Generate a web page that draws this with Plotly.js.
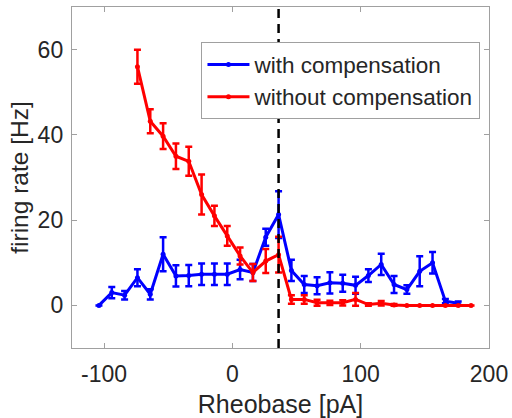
<!DOCTYPE html>
<html>
<head>
<meta charset="utf-8">
<script src="https://cdn.plot.ly/plotly-3.0.1.min.js"></script>
<style>html,body{margin:0;padding:0;background:#fff}#chart{width:512px;height:418px}</style>
</head>
<body>
<div id="chart"></div>
<script>
// Rheobase offsets (pA)
const xWith = [-104,-94,-84,-74,-64,-54,-44,-34,-24,-14,-4,6,16,26,36,46,56,66,76,86,96,106,116,126,136,146,156,166,176];
const yWith = [0,3.0,2.4,6.5,2.6,12,6.9,7.0,7.3,7.3,7.3,8.4,7.7,16,21.3,8.2,4.9,4.6,5.3,5.2,4.7,7.0,9.6,4.9,3.7,8.0,10,1.0,0.5];
const eWith = [0,1.3,1,2,1.2,4,2.5,2.5,2.5,2.5,2.5,2.3,2,2,5.5,2.5,2,2,2.5,2,2,1.5,2.5,2,1,3.5,2.5,0.5,0.4];

const xWithout = [-74,-64,-54,-44,-34,-24,-14,-4,6,16,26,36,46,56,66,76,86,96,106,116,126,136,146,156,166,176,186];
const yWithout = [56,43.2,39.7,35,33.8,26,21,16.3,11.6,7.7,10.4,11.9,1.4,1.4,0.6,0.6,0.6,1.4,0.2,0.5,0.1,0,0,0,0,0,0];
const eWithout = [4,2.8,3,3,3.4,4.7,2.4,2.3,2,2,2.8,4.2,1,1,0.7,0.5,0.6,1.5,0.3,0.5,0.2,0,0,0,0,0,0];

const rheobaseLine = 36;
const names = ["with compensation", "without compensation"];

const font = "Liberation Sans, Arial, Helvetica, sans-serif";
const traces = [
  {x: xWith, y: yWith, name: names[0], type: "scatter", mode: "lines+markers",
   line: {color: "#0000ff", width: 3}, marker: {color: "#0000ff", size: 5},
   error_y: {type: "data", array: eWith, visible: true, color: "#0000ff", thickness: 2.5, width: 3.5}},
  {x: xWithout, y: yWithout, name: names[1], type: "scatter", mode: "lines+markers",
   line: {color: "#ff0000", width: 3}, marker: {color: "#ff0000", size: 5},
   error_y: {type: "data", array: eWithout, visible: true, color: "#ff0000", thickness: 2.5, width: 3.5}}
];

const axisCommon = {
  showgrid: false, zeroline: false, showline: true, mirror: "ticks",
  linecolor: "#a0a0a0", linewidth: 1.2, ticks: "inside", ticklen: 5, tickwidth: 1,
  tickcolor: "#a0a0a0", tickfont: {family: font, size: 23, color: "#262626"}
};

const layout = {
  width: 512, height: 418,
  margin: {l: 72, r: 23, t: 7, b: 70},
  paper_bgcolor: "#fff", plot_bgcolor: "#fff",
  showlegend: true,
  legend: {x: 0.31, y: 0.897, xanchor: "left", yanchor: "top", itemwidth: 42,
           bgcolor: "#fff", bordercolor: "#a0a0a0", borderwidth: 1.2,
           font: {family: font, size: 22.5, color: "#262626"}, tracegroupgap: 0},
  xaxis: Object.assign({}, axisCommon, {range: [-125, 200], tickvals: [-100, 0, 100, 200],
    ticktext: ["-100", "0", "100", "200"], ticklabelstandoff: 5,
    title: {text: "Rheobase [pA]", font: {family: font, size: 25, color: "#262626"}, standoff: 9}}),
  yaxis: Object.assign({}, axisCommon, {range: [-10, 70], tickvals: [0, 20, 40, 60],
    ticklabelstandoff: 3,
    title: {text: "firing rate [Hz]", font: {family: font, size: 24.5, color: "#262626"}, standoff: 2}}),
  shapes: [{type: "line", xref: "x", yref: "paper", x0: rheobaseLine, x1: rheobaseLine, y0: 0, y1: 1,
            line: {color: "#000", width: 2.5, dash: "9px,6px"}}]
};

Plotly.newPlot("chart", traces, layout, {displayModeBar: false, staticPlot: true});
</script>
</body>
</html>
